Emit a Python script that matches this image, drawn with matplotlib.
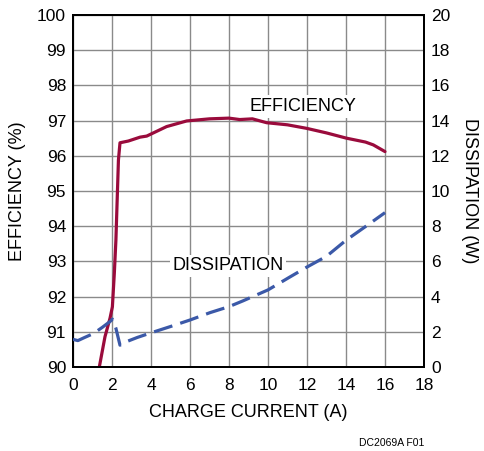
import numpy as np
import matplotlib
matplotlib.use('Agg')
import matplotlib.pyplot as plt

plt.rcParams['font.family'] = ['Liberation Sans', 'DejaVu Sans']

# Efficiency (%) vs charge current (A)
eff_current = [1.35, 1.64, 1.90, 2.02, 2.12, 2.20, 2.33, 2.41, 2.84, 3.44, 3.78,
               4.8, 5.83, 7.0, 8.0, 8.55, 9.2, 9.93, 11.0, 11.98, 13.0, 14.03,
               15.0, 15.4, 16.0]
efficiency = [90.0, 90.86, 91.39, 91.71, 92.67, 93.6, 95.88, 96.37, 96.42,
              96.53, 96.56, 96.83, 96.99, 97.05, 97.07, 97.03, 97.05, 96.94,
              96.88, 96.78, 96.65, 96.5, 96.39, 96.31, 96.12]

# Dissipation (W) vs charge current (A)
diss_current = [0.0, 0.25, 0.6, 1.05, 1.5, 1.95, 2.02, 2.2, 2.41, 2.72, 3.3,
                4.0, 5.0, 6.0, 7.03, 8.0, 8.7, 10.0, 11.1, 12.0, 13.0, 14.0,
                15.0, 16.0]
dissipation = [1.57, 1.5, 1.68, 1.9, 2.25, 2.63, 2.72, 2.2, 1.24, 1.43, 1.68,
               1.94, 2.3, 2.67, 3.09, 3.43, 3.75, 4.38, 5.1, 5.68, 6.29, 7.2,
               7.98, 8.77]

RED = '#9a0b3c'
BLUE = '#3b59a8'
GRID = '#8a8a8a'


def main():
    fig = plt.figure(figsize=(4.85, 4.51), dpi=100)
    ax = fig.add_axes([73 / 485, 1 - 367 / 451, 351 / 485, 352 / 451])
    ax2 = ax.twinx()

    ax.set_xlim(0, 18)
    ax.set_ylim(90, 100)
    ax2.set_ylim(0, 20)
    ax.set_xticks(np.arange(0, 19, 2))
    ax.set_yticks(np.arange(90, 101, 1))
    ax2.set_yticks(np.arange(0, 21, 2))

    ax.grid(True, color=GRID, linewidth=1.0)
    ax.set_axisbelow(True)
    for a in (ax, ax2):
        a.tick_params(length=0, labelsize=12.5, pad=5)
        for s in a.spines.values():
            s.set_linewidth(1.4)
            s.set_color('black')
    ax.tick_params(axis='x', pad=8)

    ax.plot(eff_current, efficiency, color=RED, linewidth=2.3,
            solid_capstyle='round', zorder=4)
    ax2.plot(diss_current, dissipation, color=BLUE, linewidth=2.3,
             dashes=(6, 2.6), zorder=4)

    box = dict(facecolor='white', edgecolor='none', pad=2)
    ax.text(11.8, 97.4, 'EFFICIENCY', fontsize=13, ha='center',
            va='center', bbox=box, zorder=3)
    ax.text(7.95, 92.87, 'DISSIPATION', fontsize=13, ha='center',
            va='center', bbox=box, zorder=3)

    ax.set_xlabel('CHARGE CURRENT (A)', fontsize=13, labelpad=8)
    ax.set_ylabel('EFFICIENCY (%)', fontsize=13, labelpad=8)
    ax2.set_ylabel('DISSIPATION (W)', fontsize=13, rotation=270,
                   labelpad=20)

    fig.text(392 / 485, 1 - 443 / 451, 'DC2069A F01', fontsize=7.5,
             ha='center', va='center')

    fig.savefig('out.png', dpi=100)


if __name__ == '__main__':
    main()
